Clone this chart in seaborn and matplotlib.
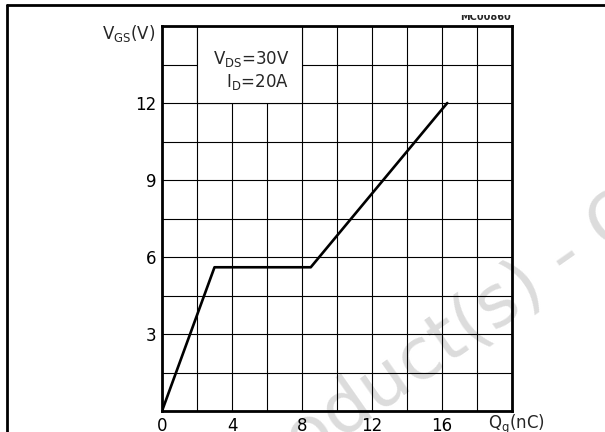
import matplotlib
matplotlib.use("Agg")
import matplotlib.pyplot as plt
import seaborn as sns
import pandas as pd
from matplotlib.patches import Rectangle
from matplotlib.transforms import Bbox

# Data
qg_nc = [0.0, 3.0, 8.5, 16.3]
vgs_v = [0.0, 5.6, 5.6, 12.0]
x_ticks = [0, 2, 4, 6, 8, 10, 12, 14, 16, 18, 20]
x_tick_labels = ["0", "", "4", "", "8", "", "12", "", "16", "", ""]
y_ticks = [0, 1.5, 3, 4.5, 6, 7.5, 9, 10.5, 12, 13.5, 15]
y_tick_labels = ["", "", "3", "", "6", "", "9", "", "12", "", ""]

sns.set_theme(style="white")
plt.rcParams["font.family"] = ["DejaVu Sans"]

df = pd.DataFrame({"Qg": qg_nc, "Vgs": vgs_v})

fig = plt.figure(figsize=(6.05, 4.32), dpi=100)
ax = fig.add_axes([162 / 605, 21 / 432, 350 / 605, 385 / 432])
ax.patch.set_alpha(0)

sns.lineplot(data=df, x="Qg", y="Vgs", ax=ax, color="black", linewidth=1.9,
             sort=False, zorder=3)

ax.set_xlim(0, 20)
ax.set_ylim(0, 15)
ax.set_xticks(x_ticks)
ax.set_xticklabels(x_tick_labels)
ax.set_yticks(y_ticks)
ax.set_yticklabels(y_tick_labels)
ax.tick_params(axis="both", length=0, labelsize=12, colors="black", pad=4)
ax.set_xlabel("")
ax.set_ylabel("")
ax.set_axisbelow(True)
ax.grid(True, color="black", linewidth=0.8)
for s in ax.spines.values():
    s.set_visible(True)
    s.set_color("black")
    s.set_linewidth(2.0)

# White box covering the grid around the conditions text
ax.add_patch(Rectangle((2, 12), 6, 3, facecolor="white", edgecolor="none", zorder=1))
ax.plot([2, 2, 8, 8], [15, 12, 12, 15], color="black", linewidth=0.8, zorder=1.2)
ax.text(2.9, 13.7, r"V$_{\mathregular{DS}}$=30V", fontsize=12, va="center", ha="left", zorder=4)
ax.text(3.65, 12.8, r"I$_{\mathregular{D}}$=20A", fontsize=12, va="center", ha="left", zorder=4)

# Axis titles
fig.text(155 / 605, 1 - 34 / 432, r"V$_{\mathregular{GS}}$(V)", fontsize=12, ha="right", va="center")
fig.text(516 / 605, 1 - 425 / 432, r"Q$_{\mathregular{g}}$(nC)", fontsize=12, ha="center", va="center")

# Figure code (top partly hidden as in the reference)
code = fig.text(511 / 605, 1 - 17 / 432, "MC00860", fontsize=7, fontweight="bold", ha="right", va="center")
code.set_clip_box(Bbox.from_extents(0, 0, 605, 432 - 15))
code.set_clip_on(True)

# Outer frame lines
fig.add_artist(plt.Line2D([7 / 605, 7 / 605], [0, 1 - 5 / 432], color="black", linewidth=2, transform=fig.transFigure))
fig.add_artist(plt.Line2D([7 / 605, 1], [1 - 5 / 432, 1 - 5 / 432], color="black", linewidth=2, transform=fig.transFigure))

# Watermark
wm = fig.text(-36 / 605, 1 - 703 / 432, "Obsolete Product(s) - Obsolete Product(s)", fontsize=52,
              color="#dcdcdc", rotation=35, rotation_mode="anchor", ha="left", va="baseline", zorder=-1)

fig.savefig("out.png", dpi=100)
